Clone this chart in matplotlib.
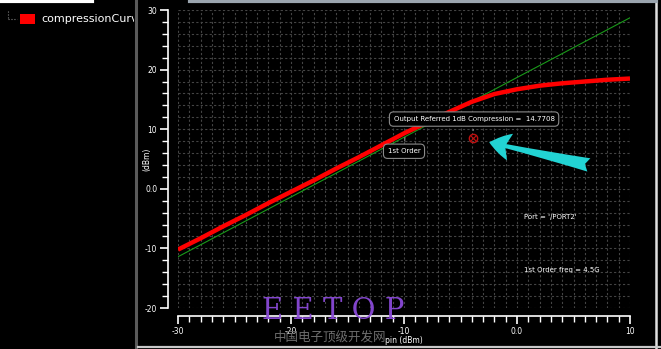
import matplotlib
matplotlib.use("Agg")
import matplotlib.pyplot as plt
from matplotlib.ticker import MultipleLocator, FixedFormatter, FixedLocator

# compression curve
pin = [-30, -28, -26, -24, -22, -20, -18, -16, -14, -12, -10, -8, -6, -4, -2, 0, 2, 4, 6, 8, 10]
pout = [-10.2, -8.3, -6.3, -4.4, -2.4, -0.5, 1.4, 3.4, 5.3, 7.3, 9.3, 11.1, 12.9, 14.6, 15.9, 16.7, 17.3, 17.7, 18.0, 18.3, 18.5]

# 1st order extrapolation line
lin_pin = [-30, 10]
lin_pout = [-11.4, 28.7]

# 1dB compression marker
cp_pin = -3.9
cp_pout = 8.6

xticks = [-30, -20, -10, 0, 10]
xlabels = ["-30", "-20", "-10", "0.0", "10"]
yticks = [-20, -10, 0, 10, 20, 30]
ylabels = ["-20", "-10", "0.0", "10", "20", "30"]

W, H = 661, 349
fig = plt.figure(figsize=(W / 100, H / 100), dpi=100, facecolor="black")
ax = fig.add_axes([178 / W, 1 - 308 / H, (630 - 178) / W, (308 - 10) / H])
ax.set_facecolor("black")

ax.set_xlim(-30, 10)
ax.set_ylim(-20, 30)

# grid: 1 dBm on x, 2 dB on y
ax.xaxis.set_minor_locator(MultipleLocator(1))
ax.yaxis.set_minor_locator(MultipleLocator(2))
ax.xaxis.set_major_locator(FixedLocator(xticks))
ax.yaxis.set_major_locator(FixedLocator(yticks))
ax.xaxis.set_major_formatter(FixedFormatter(xlabels))
ax.yaxis.set_major_formatter(FixedFormatter(ylabels))
ax.grid(True, which="both", color="#444444", linestyle=(0, (2, 2)), linewidth=0.8)
ax.set_axisbelow(True)

for s in ["top", "right"]:
    ax.spines[s].set_visible(False)
ax.spines["left"].set_position(("outward", 7))
ax.spines["bottom"].set_position(("outward", 6))
for s in ["left", "bottom"]:
    ax.spines[s].set_color("white")
    ax.spines[s].set_linewidth(1.2)
ax.tick_params(which="major", colors="white", length=6, width=1.2, labelsize=5.5)
ax.tick_params(which="minor", colors="white", length=4, width=1)
ax.tick_params(axis="x", which="major", pad=2)
ax.tick_params(axis="y", which="major", pad=2)

ax.set_xlabel("pin (dBm)", color="white", fontsize=5.5, labelpad=0)
ax.set_ylabel("(dBm)", color="white", fontsize=5.5, labelpad=-5)

ax.plot(lin_pin, lin_pout, color="#1a9a1a", linewidth=0.8, zorder=3)
ax.plot(pin, pout, color="#ff0000", linewidth=3.2, zorder=4, solid_capstyle="butt")

ax.plot(cp_pin, cp_pout, marker="o", markersize=6, markerfacecolor="none",
        markeredgecolor="#c01010", markeredgewidth=1, zorder=6)
ax.plot(cp_pin, cp_pout, marker="x", markersize=4, color="#c01010", markeredgewidth=0.8, zorder=6)

box = dict(boxstyle="round,pad=0.6,rounding_size=0.6", facecolor="black", edgecolor="#8a8a8a", linewidth=0.8)
ax.annotate("Output Referred 1dB Compression =  14.7708", xy=(cp_pin, cp_pout + 0.7), xytext=(-3.8, 11.7),
            color="white", fontsize=5, ha="center", va="center", bbox=box, zorder=7,
            arrowprops=dict(arrowstyle="-", color="#8a8a8a", linewidth=0.8))
ax.annotate("1st Order", xy=(-9.9, 9.1), xytext=(-10.0, 6.3),
            color="white", fontsize=5, ha="center", va="center", bbox=box, zorder=7,
            arrowprops=dict(arrowstyle="-", color="#8a8a8a", linewidth=0.8))

ax.text(0.6, -4.7, "Port = '/PORT2'", color="white", fontsize=5, va="center", ha="left")
ax.text(0.6, -13.6, "1st Order freq = 4.5G", color="white", fontsize=5, va="center", ha="left")

# cyan pointer arrow
ax.annotate("", xy=(-2.7, 7.9), xytext=(6.6, 3.9),
            arrowprops=dict(arrowstyle="fancy,head_length=1.1,head_width=1.4,tail_width=0.7",
                            color="#22d3d3", mutation_scale=14, linewidth=0), zorder=8)

# window chrome around the plot
fig.add_artist(plt.Line2D([136 / W, 136 / W], [0, 1], color="#5a5a5a", linewidth=2.2))
fig.add_artist(plt.Line2D([656 / W, 656 / W], [0, 1], color="#e0e0e0", linewidth=1.8))
fig.add_artist(plt.Line2D([138 / W, 1], [1 - 346.5 / H, 1 - 346.5 / H], color="#c8c8c8", linewidth=1.6))
fig.add_artist(plt.Line2D([0, 92 / W], [1 - 1 / H, 1 - 1 / H], color="white", linewidth=3))
fig.add_artist(plt.Line2D([190 / W, 656 / W], [1 - 1 / H, 1 - 1 / H], color="#9aa4ae", linewidth=3))

# legend tree on the left
fig.add_artist(plt.Line2D([8 / W, 8 / W], [1 - 11 / H, 1 - 19 / H], color="#808080", linewidth=0.8, linestyle=":"))
fig.add_artist(plt.Line2D([8 / W, 17 / W], [1 - 19 / H, 1 - 19 / H], color="#808080", linewidth=0.8, linestyle=":"))
fig.add_artist(plt.Rectangle((20 / W, 1 - 24 / H), 15 / W, 10 / H, facecolor="#ff0000", edgecolor="none"))
leg = fig.text(41 / W, 1 - 19 / H, "compressionCurve", color="white", fontsize=8.0, va="center", ha="left")
leg.set_clip_on(True)
leg.set_clip_box(matplotlib.transforms.Bbox([[0, 0], [134, H]]))

# watermark
fig.text(333 / W, 1 - 311 / H, "E E T O P", color="#8a4ad8", fontsize=21, family="DejaVu Serif",
         ha="center", va="center", alpha=0.95)
fig.text(330 / W, 1 - 337 / H, "中国电子顶级开发网", color="#6e6e6e", fontsize=9,
         family=["Noto Sans CJK SC", "DejaVu Sans"], ha="center", va="center")

fig.savefig("out.png", dpi=100, facecolor="black")
